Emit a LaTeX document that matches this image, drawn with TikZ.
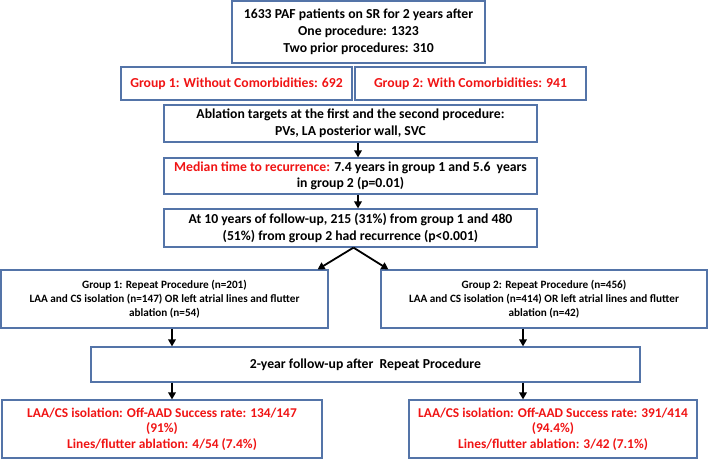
\documentclass[tikz,border=0pt]{standalone}
\usepackage{fontspec}
\setmainfont{Carlito}
\usetikzlibrary{arrows.meta}
\definecolor{boxblue}{RGB}{84,116,168}
\definecolor{txtred}{RGB}{240,20,20}
\tikzset{
  box/.style={draw=boxblue, line width=1.2pt, inner sep=0pt, align=center,
    font=\fontsize{13.7}{16.5}\selectfont\bfseries},
  smallbox/.style={box, font=\fontsize{11.2}{14}\selectfont\bfseries},
  resbox/.style={box, text=txtred, font=\fontsize{13.4}{15.5}\selectfont\bfseries},
  arr/.style={-{Triangle[length=7pt,width=7.5pt]}, line width=1.8pt}
}
\newcommand{\redt}[1]{\textcolor{txtred}{#1}}
\begin{document}
\begin{tikzpicture}[x=1pt,y=-1pt]
  \useasboundingbox (0,0) rectangle (709,459);
  % patients
  \node[box, minimum width=253, minimum height=62, font=\fontsize{13.7}{17}\selectfont\bfseries] (top) at (358.5,32)
    {1633 PAF patients on SR for 2 years after\\One procedure: 1323\\Two prior procedures: 310};
  % groups
  \node[box, text=txtred, minimum width=231, minimum height=33] (grp1) at (236.5,83.5)
    {Group 1: Without Comorbidities: 692};
  \node[box, text=txtred, minimum width=231, minimum height=33] (grp2) at (470.5,83.5)
    {Group 2: With Comorbidities: 941};
  % middle column
  \node[box, minimum width=373, minimum height=37] (abl) at (350.5,123.5)
    {Ablation targets at the first and the second procedure:\\PVs, LA posterior wall, SVC};
  \node[box, minimum width=373, minimum height=36] (med) at (350.5,176)
    {\redt{Median time to recurrence:} 7.4 years in group 1 and 5.6~ years\\in group 2 (p=0.01)};
  \node[box, minimum width=373, minimum height=38] (tenyr) at (350.5,228)
    {At 10 years of follow-up, 215 (31\%) from group 1 and 480\\(51\%) from group 2 had recurrence (p<0.001)};
  % repeat procedures
  \node[smallbox, minimum width=327, minimum height=58] (g1rep) at (164.5,299)
    {Group 1: Repeat Procedure (n=201)\\LAA and CS isolation (n=147) OR left atrial lines and flutter\\ablation (n=54)};
  \node[smallbox, minimum width=326, minimum height=58] (g2rep) at (544,299)
    {Group 2: Repeat Procedure (n=456)\\LAA and CS isolation (n=414) OR left atrial lines and flutter\\ablation (n=42)};
  % follow-up
  \node[box, minimum width=549, minimum height=35] (fu) at (365.5,364.5)
    {2-year follow-up after~ Repeat Procedure};
  % results
  \node[resbox, minimum width=320, minimum height=58] (res1) at (162,429)
    {LAA/CS isolation: Off-AAD Success rate: 134/147\\(91\%)\\Lines/flutter ablation: 4/54 (7.4\%)};
  \node[resbox, minimum width=288, minimum height=58] (res2) at (553,429)
    {LAA/CS isolation: Off-AAD Success rate: 391/414\\(94.4\%)\\Lines/flutter ablation: 3/42 (7.1\%)};
  % arrows
  \draw[arr] ([xshift=7.5pt]abl.south) -- ([xshift=7.5pt]med.north);
  \draw[arr] ([xshift=7.5pt]med.south) -- ([xshift=7.5pt]tenyr.north);
  \draw[arr] ([xshift=3pt]tenyr.south) -- ([xshift=-11pt]g1rep.north east);
  \draw[arr] ([xshift=3pt]tenyr.south) -- ([xshift=8pt]g2rep.north west);
  \draw[arr] ([xshift=7.5pt]g1rep.south) -- ([xshift=7.5pt]g1rep.south |- fu.north);
  \draw[arr] ([xshift=-21pt]g2rep.south) -- ([xshift=-21pt]g2rep.south |- fu.north);
  \draw[arr] ([xshift=10pt]res1.north |- fu.south) -- ([xshift=10pt]res1.north);
  \draw[arr] ([xshift=-30pt]res2.north |- fu.south) -- ([xshift=-30pt]res2.north);
\end{tikzpicture}
\end{document}
